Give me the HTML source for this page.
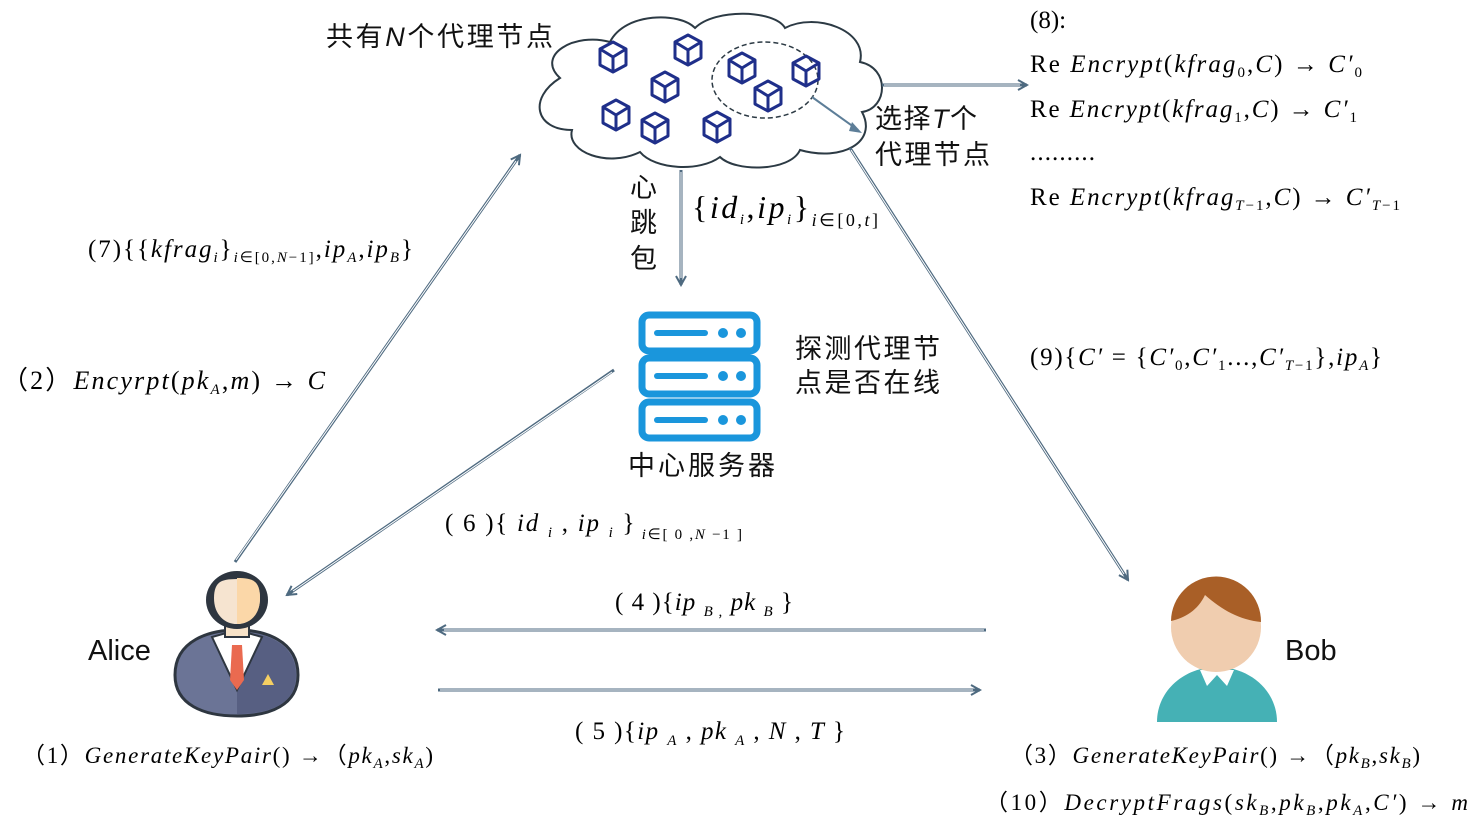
<!DOCTYPE html>
<html><head><meta charset="utf-8"><style>
html,body{margin:0;padding:0;background:#fff;}
svg{display:block;}
.s{font-family:"Liberation Serif",serif;font-size:25px;fill:#000;}
.i{font-style:italic;}
.c{font-family:"Liberation Sans","Noto Sans CJK SC",sans-serif;font-size:27px;fill:#111;}
.sub{font-size:15px;}
</style></head><body>
<svg width="1473" height="821" viewBox="0 0 1473 821" xmlns="http://www.w3.org/2000/svg">
<defs>
<marker id="ah" viewBox="0 0 12 12" refX="10" refY="6" markerWidth="12" markerHeight="12" markerUnits="userSpaceOnUse" orient="auto">
<path d="M1,1 L10,6 L1,11" fill="none" stroke="#4e6a80" stroke-width="2"/>
</marker>
<g id="cube"><path d="M0,-15 L13,-8 L13,8 L0,15 L-13,8 L-13,-8 Z M-13,-8 L0,0 L13,-8 M0,0 L0,15" fill="none" stroke="#1f2f8a" stroke-width="3" stroke-linejoin="round"/></g>
</defs>

<!-- cloud -->
<g fill="#fff" stroke="#2c3a44" stroke-width="2">
<path d="M560,78 C535,55 575,32 610,42 C625,12 680,12 695,28 C715,8 775,10 785,28 C815,12 868,30 860,62 C890,68 888,108 862,112 C878,142 842,162 800,150 C790,172 735,172 720,157 C700,172 655,170 640,152 C608,168 566,152 572,130 C535,130 528,98 560,78 Z"/>
</g>
<ellipse cx="765" cy="80" rx="53" ry="38" fill="none" stroke="#2c3a44" stroke-width="1.5" stroke-dasharray="5,3"/>
<use href="#cube" x="613" y="57"/>
<use href="#cube" x="688" y="50"/>
<use href="#cube" x="665" y="87"/>
<use href="#cube" x="616" y="115"/>
<use href="#cube" x="655" y="128"/>
<use href="#cube" x="717" y="127"/>
<use href="#cube" x="742" y="68"/>
<use href="#cube" x="806" y="71"/>
<use href="#cube" x="768" y="96"/>

<!-- arrows -->
<g stroke="#4e6a80" stroke-width="3" fill="none" marker-end="url(#ah)">
<line x1="681" y1="170" x2="681" y2="285"/>
<line x1="235" y1="562" x2="520" y2="155"/>
<line x1="614" y1="370" x2="287" y2="595"/>
<line x1="850" y1="148" x2="1128" y2="580"/>
<line x1="882" y1="85" x2="1027" y2="85"/>
<line x1="986" y1="630" x2="437" y2="630"/>
<line x1="438" y1="690" x2="980" y2="690"/>
</g>
<g stroke="#fff" stroke-width="1" fill="none">
<line x1="681" y1="172" x2="681" y2="278"/>
<line x1="236" y1="560" x2="516" y2="161"/>
<line x1="612" y1="372" x2="293" y2="591"/>
<line x1="851" y1="150" x2="1124" y2="574"/>
<line x1="884" y1="85" x2="1020" y2="85"/>
<line x1="984" y1="630" x2="444" y2="630"/>
<line x1="440" y1="690" x2="973" y2="690"/>
</g>
<line x1="812" y1="97" x2="858" y2="130" stroke="#5d7e98" stroke-width="2"/>
<path d="M852,122 L862,133 L849,131 Z" fill="#5d7e98"/>

<!-- server -->
<g fill="none" stroke="#1a96dc" stroke-width="7">
<rect x="642" y="315" width="115" height="36" rx="7"/>
<rect x="642" y="358" width="115" height="36" rx="7"/>
<rect x="642" y="402" width="115" height="36" rx="7"/>
</g>
<g stroke="#1a96dc" stroke-width="6" stroke-linecap="round">
<line x1="657" y1="333" x2="705" y2="333"/><line x1="657" y1="376" x2="705" y2="376"/><line x1="657" y1="420" x2="705" y2="420"/>
</g>
<g fill="#1a96dc">
<circle cx="723" cy="333" r="5"/><circle cx="741" cy="333" r="5"/>
<circle cx="723" cy="376" r="5"/><circle cx="741" cy="376" r="5"/>
<circle cx="723" cy="420" r="5"/><circle cx="741" cy="420" r="5"/>
</g>

<!-- Alice -->
<path d="M175,675 C175,640 210,630 237,630 C264,630 298,640 298,675 C298,705 270,716 237,716 C204,716 175,705 175,675 Z" fill="#6b7496" stroke="#2e3640" stroke-width="3"/>
<path d="M237,632 C264,632 296,642 296,675 C296,704 270,714 237,714 Z" fill="#575f82"/>
<path d="M212,637 L237,690 L262,637 L237,630 Z" fill="#fff" stroke="#2e3640" stroke-width="2"/>
<path d="M232,645 L242,645 L244,680 L237,690 L230,680 Z" fill="#ea6a50"/>
<path d="M262,685 L268,674 L274,685 Z" fill="#f5cf62"/>
<rect x="225" y="615" width="24" height="22" fill="#f7e2c8" stroke="#2e3640" stroke-width="2"/>
<ellipse cx="237" cy="600" rx="31" ry="29" fill="#2e3640"/>
<path d="M213,598 C213,580 222,578 237,578 C252,578 261,580 261,598 C261,615 250,625 237,625 C224,625 213,615 213,598 Z" fill="#f6e4d0" stroke="#2e3640" stroke-width="2"/>
<path d="M237,578 C252,578 260,580 260,598 C260,615 250,624 237,624 Z" fill="#fbd7a8"/>

<!-- Bob -->
<path d="M1157,722 C1157,690 1185,667 1217,667 C1249,667 1277,690 1277,722 Z" fill="#45b1b5"/>
<path d="M1200,670 L1207,686 L1217,675 L1227,686 L1234,670 Z" fill="#fff"/>
<circle cx="1216" cy="627" r="45" fill="#f0cdaf"/>
<path d="M1171,621 A45,45 0 0 1 1261,622 C1240,620 1222,610 1205,595 C1198,610 1185,618 1171,621 Z" fill="#a95f27"/>

<!-- text -->
<text x="326" y="46" class="c" textLength="227" lengthAdjust="spacing">共有<tspan class="i" font-family="Liberation Sans">N</tspan>个代理节点</text>
<text x="875" y="128" class="c" textLength="102" lengthAdjust="spacing">选择<tspan class="i" font-family="Liberation Sans">T</tspan>个</text>
<text x="875" y="164" class="c" textLength="115" lengthAdjust="spacing">代理节点</text>
<text x="630" y="197" class="c">心</text>
<text x="630" y="232" class="c">跳</text>
<text x="630" y="268" class="c">包</text>
<text x="795" y="358" class="c" textLength="145" lengthAdjust="spacing">探测代理节</text>
<text x="795" y="392" class="c" textLength="145" lengthAdjust="spacing">点是否在线</text>
<text x="628" y="475" class="c" textLength="147" lengthAdjust="spacing">中心服务器</text>
<text x="88" y="660" class="c" style="font-size:29px">Alice</text>
<text x="1285" y="660" class="c" style="font-size:29px">Bob</text>

<text x="692" y="218" class="s" style="font-size:32px" textLength="186" lengthAdjust="spacing">{<tspan class="i">id</tspan><tspan class="sub i" dy="6">i</tspan><tspan dy="-6">,</tspan><tspan class="i">ip</tspan><tspan class="sub i" dy="6">i</tspan><tspan dy="-6">}</tspan><tspan style="font-size:18px" dy="8"><tspan class="i">i</tspan>∈[0,<tspan class="i">t</tspan>]</tspan></text>

<text x="88" y="257" class="s" textLength="325" lengthAdjust="spacing">(7){{<tspan class="i">kfrag</tspan><tspan class="sub i" dy="5">i</tspan><tspan dy="-5">}</tspan><tspan class="sub" dy="5"><tspan class="i">i</tspan>∈[0,<tspan class="i">N</tspan>−1]</tspan><tspan dy="-5">,</tspan><tspan class="i">ip</tspan><tspan class="sub i" dy="5">A</tspan><tspan dy="-5">,</tspan><tspan class="i">ip</tspan><tspan class="sub i" dy="5">B</tspan><tspan dy="-5">}</tspan></text>
<text x="2" y="389" class="s" style="font-size:26px" textLength="323" lengthAdjust="spacing">（2）<tspan class="i">Encyrpt</tspan>(<tspan class="i">pk</tspan><tspan class="sub i" dy="5">A</tspan><tspan dy="-5">,</tspan><tspan class="i">m</tspan>) → <tspan class="i">C</tspan></text>

<text x="1030" y="28" class="s">(8):</text>
<text x="1030" y="72" class="s" textLength="332" lengthAdjust="spacing">Re <tspan class="i">Encrypt</tspan>(<tspan class="i">kfrag</tspan><tspan class="sub" dy="5">0</tspan><tspan dy="-5">,</tspan><tspan class="i">C</tspan>) → <tspan class="i">C′</tspan><tspan class="sub" dy="5">0</tspan></text>
<text x="1030" y="117" class="s" textLength="327" lengthAdjust="spacing">Re <tspan class="i">Encrypt</tspan>(<tspan class="i">kfrag</tspan><tspan class="sub" dy="5">1</tspan><tspan dy="-5">,</tspan><tspan class="i">C</tspan>) → <tspan class="i">C′</tspan><tspan class="sub" dy="5">1</tspan></text>
<text x="1030" y="160" class="s" textLength="65" lengthAdjust="spacing">.........</text>
<text x="1030" y="205" class="s" textLength="370" lengthAdjust="spacing">Re <tspan class="i">Encrypt</tspan>(<tspan class="i">kfrag</tspan><tspan class="sub" dy="5"><tspan class="i">T</tspan>−1</tspan><tspan dy="-5">,</tspan><tspan class="i">C</tspan>) → <tspan class="i">C′</tspan><tspan class="sub" dy="5"><tspan class="i">T</tspan>−1</tspan></text>

<text x="1030" y="365" class="s" textLength="352" lengthAdjust="spacing">(9){<tspan class="i">C′</tspan> = {<tspan class="i">C′</tspan><tspan class="sub" dy="5">0</tspan><tspan dy="-5">,</tspan><tspan class="i">C′</tspan><tspan class="sub" dy="5">1</tspan><tspan dy="-5">...,</tspan><tspan class="i">C′</tspan><tspan class="sub" dy="5"><tspan class="i">T</tspan>−1</tspan><tspan dy="-5">},</tspan><tspan class="i">ip</tspan><tspan class="sub i" dy="5">A</tspan><tspan dy="-5">}</tspan></text>

<text x="445" y="531" class="s" textLength="297" lengthAdjust="spacing">( 6 ){ <tspan class="i">id</tspan> <tspan class="sub i" dy="6">i</tspan><tspan dy="-6"> , </tspan><tspan class="i">ip</tspan> <tspan class="sub i" dy="6">i</tspan><tspan dy="-6"> }</tspan><tspan class="sub" dy="8"> <tspan class="i">i</tspan>∈[ 0 ,<tspan class="i">N</tspan> −1 ]</tspan></text>
<text x="615" y="610" class="s" textLength="178" lengthAdjust="spacing">( 4 ){<tspan class="i">ip</tspan> <tspan class="sub i" dy="6">B ,</tspan><tspan dy="-6"> </tspan><tspan class="i">pk</tspan> <tspan class="sub i" dy="6">B</tspan><tspan dy="-6"> }</tspan></text>
<text x="575" y="739" class="s" textLength="270" lengthAdjust="spacing">( 5 ){<tspan class="i">ip</tspan> <tspan class="sub i" dy="6">A</tspan><tspan dy="-6"> , </tspan><tspan class="i">pk</tspan> <tspan class="sub i" dy="6">A</tspan><tspan dy="-6"> , </tspan><tspan class="i">N</tspan> , <tspan class="i">T</tspan> }</text>

<text x="22" y="763" class="s" style="font-size:23px" textLength="411" lengthAdjust="spacing">（1）<tspan class="i">GenerateKeyPair</tspan>()  →（<tspan class="i">pk</tspan><tspan class="sub i" dy="5">A</tspan><tspan dy="-5">,</tspan><tspan class="i">sk</tspan><tspan class="sub i" dy="5">A</tspan><tspan dy="-5">)</tspan></text>
<text x="1010" y="763" class="s" style="font-size:23px" textLength="410" lengthAdjust="spacing">（3）<tspan class="i">GenerateKeyPair</tspan>()  →（<tspan class="i">pk</tspan><tspan class="sub i" dy="5">B</tspan><tspan dy="-5">,</tspan><tspan class="i">sk</tspan><tspan class="sub i" dy="5">B</tspan><tspan dy="-5">)</tspan></text>
<text x="985" y="810" class="s" style="font-size:23px" textLength="483" lengthAdjust="spacing">（10）<tspan class="i">DecryptFrags</tspan>(<tspan class="i">sk</tspan><tspan class="sub i" dy="5">B</tspan><tspan dy="-5">,</tspan><tspan class="i">pk</tspan><tspan class="sub i" dy="5">B</tspan><tspan dy="-5">,</tspan><tspan class="i">pk</tspan><tspan class="sub i" dy="5">A</tspan><tspan dy="-5">,</tspan><tspan class="i">C′</tspan>) → <tspan class="i">m</tspan></text>
</svg>
</body></html>
